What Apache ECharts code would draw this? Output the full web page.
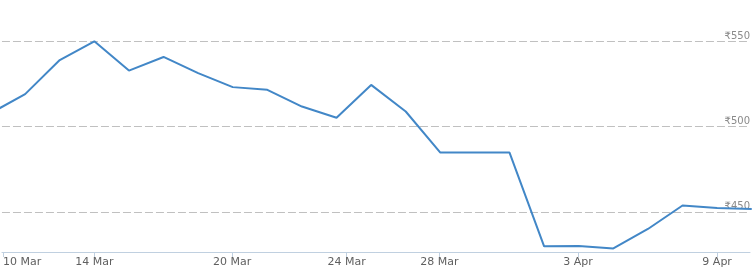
<!DOCTYPE html>
<html>
<head>
<meta charset="utf-8">
<script src="https://cdn.jsdelivr.net/npm/echarts@6/dist/echarts.min.js"></script>
<style>html,body{margin:0;padding:0;background:#fff}#c{width:753px;height:276px}</style>
</head>
<body>
<div id="c"></div>
<script>
// trading-day index (14 Mar = 0), ordinal positions
const dayIndex = [-3,-2,-1,0,1,2,3,4,5,6,7,8,9,10,11,12,13,14,15,16,17,18,19];
const prices = [507.8,519.0,539.0,550.0,532.8,540.8,531.3,523.1,521.5,511.7,505.1,524.4,508.8,484.7,484.7,484.7,429.7,429.9,428.5,439.9,453.7,452.2,451.6];
const xTickPos = [-2.64,0,3.98,7.29,9.97,13.98,18];
const xTickLabels = ['10 Mar','14 Mar','20 Mar','24 Mar','28 Mar','3 Apr','9 Apr'];
const yTicks = [450,500,550];

const chart = echarts.init(document.getElementById('c'), null, {renderer:'canvas'});
chart.setOption({
  animation:false,
  grid:{left:0,right:0,top:0,bottom:24,containLabel:false},
  xAxis:{
    type:'value', min:-2.67, max:18.95,
    axisLine:{show:true,lineStyle:{color:'#C0D0E0',width:1}},
    axisTick:{show:true,length:5,lineStyle:{color:'#C0D0E0'},customValues:xTickPos},
    axisLabel:{
      customValues:xTickPos, color:'#606060', fontSize:11, fontFamily:'DejaVu Sans', margin:5,
      alignMinLabel:'left',
      formatter:function(v){ const i = xTickPos.findIndex(p=>Math.abs(p-v)<1e-6); return i>=0?xTickLabels[i]:''; }
    },
    splitLine:{show:false}
  },
  yAxis:{
    type:'value', min:426.4, max:574.2, position:'right',
    axisLine:{show:false},
    axisTick:{show:false,customValues:yTicks},
    axisLabel:{customValues:yTicks, inside:true, verticalAlign:'bottom', margin:0, color:'#8a8a8a', fontSize:10, fontFamily:'DejaVu Sans',
      formatter:function(v){return '\u20B9'+v;}},
    splitLine:{show:true,lineStyle:{color:'#C0C0C0',type:[8,3],width:1}}
  },
  series:[{
    type:'line', data:dayIndex.map((d,i)=>[d,prices[i]]),
    showSymbol:false, symbol:'none',
    lineStyle:{color:'#4287c7',width:2},
    clip:true
  }]
});
</script>
</body>
</html>
